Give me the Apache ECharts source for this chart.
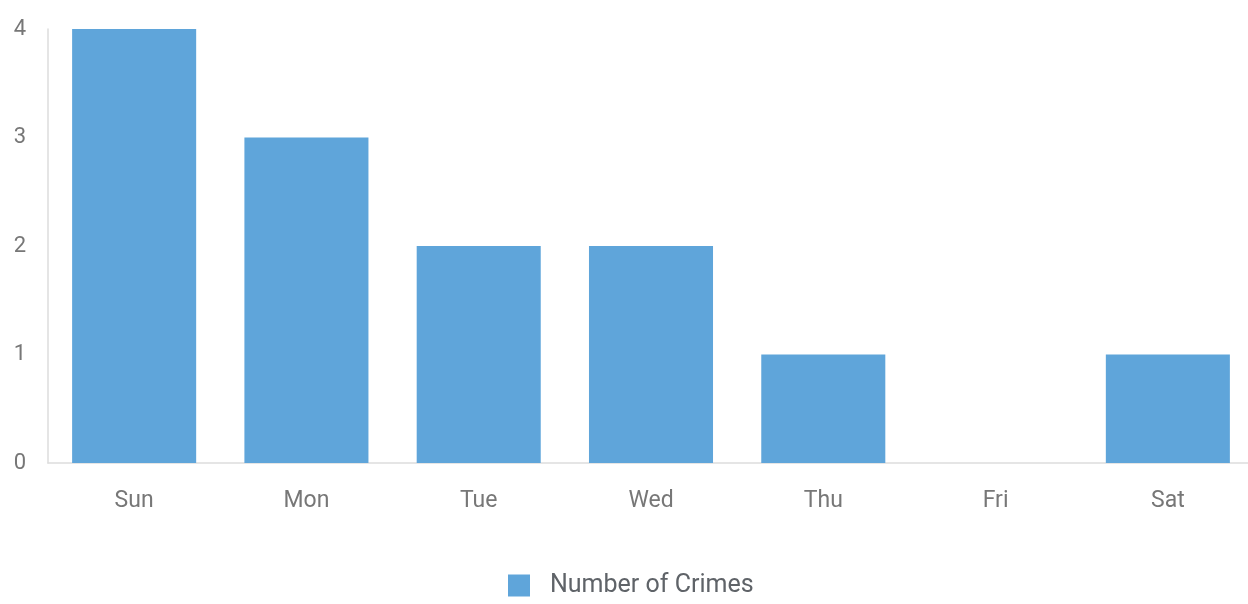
<!DOCTYPE html>
<html>
<head>
<meta charset="utf-8">
<script src="https://cdn.jsdelivr.net/npm/echarts@6/dist/echarts.min.js"></script>
<style>html,body{margin:0;padding:0;background:#fff}#c{width:1248px;height:604px}</style>
</head>
<body>
<div id="c"></div>
<script>
const categories = ['Sun', 'Mon', 'Tue', 'Wed', 'Thu', 'Fri', 'Sat'];
const crimes = [4, 3, 2, 2, 1, 0, 1];
const seriesName = 'Number of Crimes';

const chart = echarts.init(document.getElementById('c'));
chart.setOption({
  animation: false,
  textStyle: { fontFamily: 'Roboto' },
  grid: { left: 48, width: 1206, top: 29, bottom: 141, containLabel: false, outerBoundsMode: 'none' },
  legend: {
    bottom: 1, left: 503,
    itemWidth: 22, itemHeight: 22, itemGap: 20,
    icon: 'rect',
    textStyle: { fontSize: 25, color: '#5f6368', fontFamily: 'Roboto', padding: [0, 0, 0, 15] },
    data: [seriesName]
  },
  xAxis: {
    type: 'category', data: categories,
    axisLine: { lineStyle: { color: '#dddddd', width: 1.5 } },
    axisTick: { show: false },
    axisLabel: { fontSize: 23, color: '#777777', margin: 27, fontFamily: 'Roboto' }
  },
  yAxis: {
    type: 'value', min: 0, max: 4, interval: 1,
    axisLine: { show: true, lineStyle: { color: '#dddddd', width: 1.5 } },
    axisTick: { show: false },
    splitLine: { show: false },
    axisLabel: { fontSize: 22, color: '#777777', margin: 22, fontFamily: 'Roboto' }
  },
  series: [{
    name: seriesName, type: 'bar', data: crimes,
    barCategoryGap: '28%',
    itemStyle: { color: '#5fa5da' }
  }]
});
</script>
</body>
</html>
